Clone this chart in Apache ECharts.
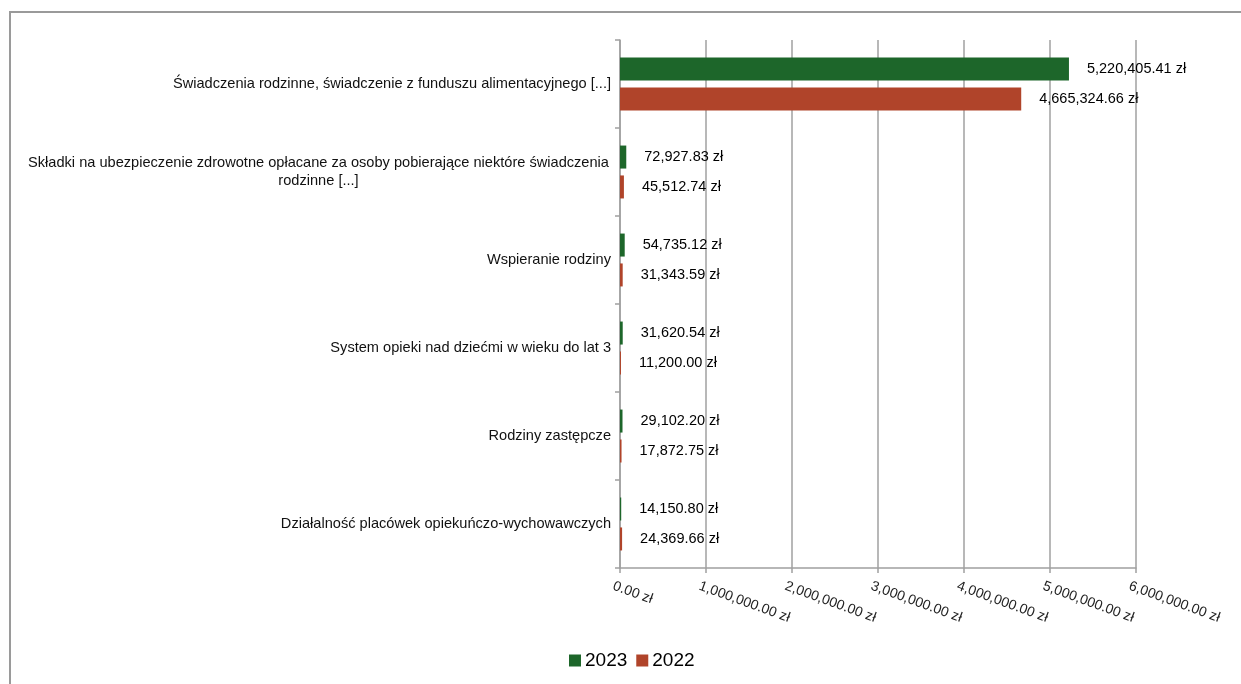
<!DOCTYPE html>
<html>
<head>
<meta charset="utf-8">
<script src="https://cdn.jsdelivr.net/npm/echarts@6/dist/echarts.min.js"></script>
<style>
html,body{margin:0;padding:0;background:#fff;}
#frame{position:absolute;left:9px;top:11px;width:1300px;height:800px;border-top:2px solid #9a9a9a;border-left:2px solid #9a9a9a;}
#c{position:absolute;left:0;top:0;width:1241px;height:684px;}
</style>
</head>
<body>
<div id="frame"></div>
<div id="c"></div>
<script>
const categories = [
  "Świadczenia rodzinne, świadczenie z funduszu alimentacyjnego [...]",
  "Składki na ubezpieczenie zdrowotne opłacane za osoby pobierające niektóre świadczenia rodzinne [...]",
  "Wspieranie rodziny",
  "System opieki nad dziećmi w wieku do lat 3",
  "Rodziny zastępcze",
  "Działalność placówek opiekuńczo-wychowawczych"
];
const seriesNames = ["2023", "2022"];
const values2023 = [5220405.41, 72927.83, 54735.12, 31620.54, 29102.20, 14150.80];
const values2022 = [4665324.66, 45512.74, 31343.59, 11200.00, 17872.75, 24369.66];
const axisMin = 0, axisMax = 6000000, axisInterval = 1000000;

const fmt = v => v.toLocaleString('en-US', {minimumFractionDigits: 2, maximumFractionDigits: 2}) + ' zł';
const font = '"Liberation Sans", Arial, sans-serif';

const chart = echarts.init(document.getElementById('c'), null, {renderer: 'canvas'});
const labelOpt = {
  show: true, position: 'right', distance: 18,
  color: '#000', fontSize: 14.5, fontFamily: font,
  formatter: p => fmt(p.value)
};
chart.setOption({
  animation: false,
  backgroundColor: 'transparent',
  textStyle: {fontFamily: font},
  grid: {left: 620, right: 105, top: 40, bottom: 116, containLabel: false},
  legend: {
    data: seriesNames, left: 564, top: 646,
    icon: 'rect', itemWidth: 12, itemHeight: 12, itemGap: 9,
    textStyle: {fontSize: 19, color: '#000', fontFamily: font, padding: [0, 0, 0, -1]}
  },
  xAxis: {
    type: 'value', min: axisMin, max: axisMax, interval: axisInterval,
    axisLine: {show: true, lineStyle: {color: '#a0a0a0', width: 1.5}},
    axisTick: {show: true, length: 5, lineStyle: {color: '#a0a0a0', width: 1.5}},
    splitLine: {show: true, lineStyle: {color: '#a0a0a0', width: 1.5}},
    axisLabel: {
      rotate: -20, margin: 20, color: '#222', fontSize: 14, fontFamily: font,
      padding: [0, 0, 0, -7],
      formatter: v => fmt(v)
    }
  },
  yAxis: {
    type: 'category', data: categories, inverse: true,
    axisLine: {show: true, lineStyle: {color: '#a0a0a0', width: 1.5}},
    axisTick: {show: true, length: 5, lineStyle: {color: '#a0a0a0', width: 1.5}},
    axisLabel: {
      margin: 9, color: '#111', fontSize: 14.6, fontFamily: font,
      formatter: (v, i) => {
        if (i === 1) {
          return '{w|Składki na ubezpieczenie zdrowotne opłacane za osoby pobierające niektóre świadczenia}\n{w|rodzinne [...]}';
        }
        return v;
      },
      rich: {
        w: {width: 585, align: 'center', fontSize: 14.6, color: '#111', fontFamily: font, lineHeight: 18}
      }
    }
  },
  series: [
    {name: seriesNames[0], type: 'bar', data: values2023, itemStyle: {color: '#1d662a'},
     barWidth: 23, barGap: '30%', label: labelOpt},
    {name: seriesNames[1], type: 'bar', data: values2022, itemStyle: {color: '#b0442a'},
     barWidth: 23, barGap: '30%', label: labelOpt}
  ]
});
</script>
</body>
</html>
